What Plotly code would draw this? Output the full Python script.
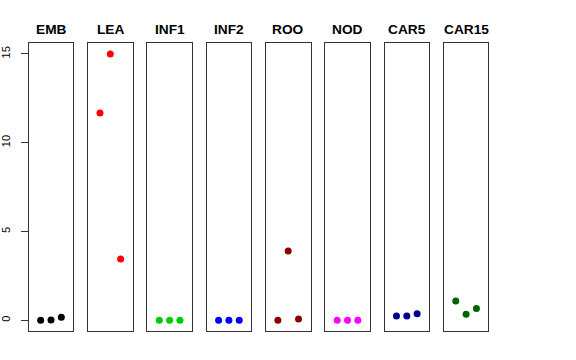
import plotly.graph_objects as go

categories = ["EMB", "LEA", "INF1", "INF2", "ROO", "NOD", "CAR5", "CAR15"]
values = {
    "EMB":   [0.00, 0.02, 0.17],
    "LEA":   [11.68, 15.00, 3.45],
    "INF1":  [0.00, 0.00, 0.00],
    "INF2":  [0.00, 0.00, 0.00],
    "ROO":   [0.00, 3.91, 0.07],
    "NOD":   [0.00, 0.00, 0.00],
    "CAR5":  [0.24, 0.24, 0.37],
    "CAR15": [1.09, 0.35, 0.67],
}
colors = ["#000000", "#FF0000", "#00CD00", "#0000FF", "#8B0000", "#FF00FF", "#00008B", "#006400"]
replicates = [1, 2, 3]
y_ticks = [0, 5, 10, 15]

W, H = 576, 360
left0, pw, step = 28.7, 44.6, 59.3
top, bottom = 43.3, 331.0

fig = go.Figure()
layout = dict(
    width=W, height=H,
    margin=dict(l=0, r=0, t=0, b=0),
    plot_bgcolor="white", paper_bgcolor="white",
    showlegend=False,
    font=dict(family="Liberation Sans, Arial, sans-serif", color="black"),
)
annotations = []
for i, (cat, col) in enumerate(zip(categories, colors)):
    n = "" if i == 0 else str(i + 1)
    x0 = left0 + i * step
    x1 = x0 + pw
    fig.add_trace(go.Scatter(
        x=replicates, y=values[cat], mode="markers",
        marker=dict(color=col, size=7, line=dict(width=0)),
        xaxis="x" + n, yaxis="y" + n, hoverinfo="x+y",
    ))
    layout["xaxis" + n] = dict(
        domain=[x0 / W, x1 / W], range=[-0.16, 4.16],
        showgrid=False, zeroline=False, showticklabels=False, ticks="",
        showline=True, mirror=True, linecolor="#333333", linewidth=1,
        anchor="y" + n, fixedrange=True,
    )
    yax = dict(
        domain=[(H - bottom) / H, (H - top) / H], range=[-0.6, 15.6],
        showgrid=False, zeroline=False,
        showline=True, mirror=True, linecolor="#333333", linewidth=1,
        anchor="x" + n, fixedrange=True,
    )
    if i == 0:
        yax.update(tickvals=y_ticks, ticktext=[str(v) for v in y_ticks],
                   ticks="outside", ticklen=7, tickcolor="#333333",
                   tickangle=-90, tickfont=dict(size=11, color="#000000"),
                   ticklabelstandoff=6)
    else:
        yax.update(showticklabels=False, ticks="")
    layout["yaxis" + n] = yax
    annotations.append(dict(
        text="<b>%s</b>" % cat, xref="paper", yref="paper",
        x=(x0 + x1) / 2 / W, y=(H - 29.3) / H, xanchor="center", yanchor="middle",
        showarrow=False, font=dict(size=13.7, color="black"),
    ))
layout["annotations"] = annotations
fig.update_layout(**layout)
fig.write_html("out.html", config={"displayModeBar": False},
               post_script="document.body.style.margin='0';document.body.style.padding='0';")
